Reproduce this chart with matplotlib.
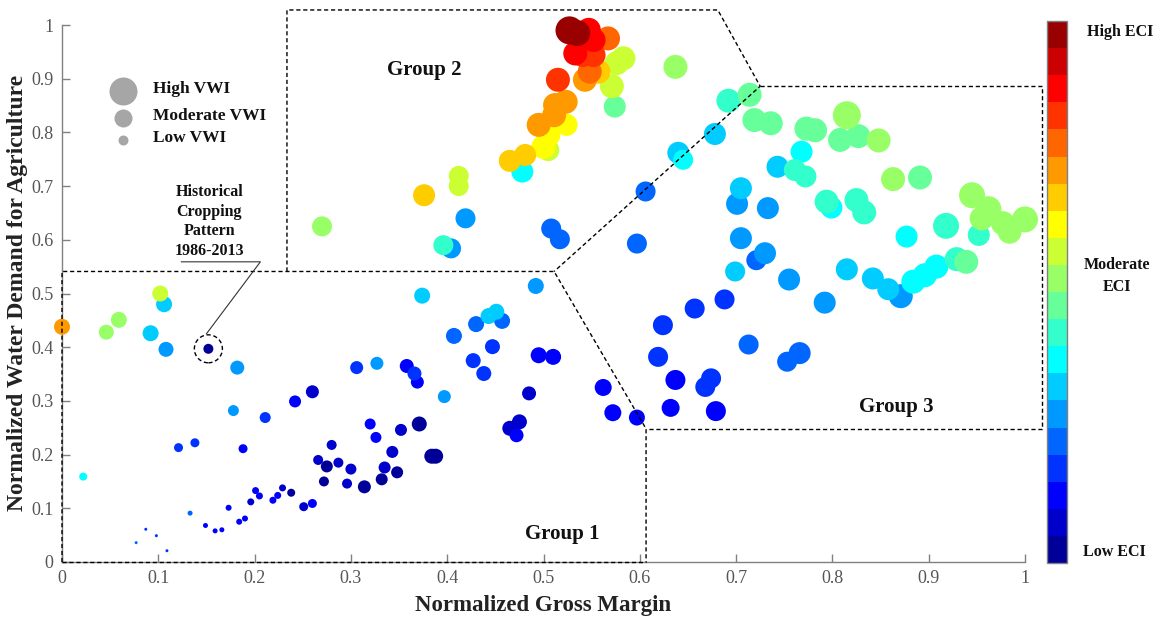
import matplotlib
matplotlib.use("Agg")
import matplotlib.pyplot as plt
import numpy as np
from matplotlib.colors import ListedColormap, BoundaryNorm
from matplotlib.patches import Ellipse
import matplotlib.colorbar as mcolorbar

# ---------------- data ----------------
gross_margin = [
    0.000, 0.046, 0.059, 0.102, 0.106, 0.092, 0.108, 0.152, 0.182, 0.022,
    0.178, 0.211, 0.242, 0.260, 0.121, 0.138, 0.188, 0.133, 0.077, 0.087,
    0.098, 0.109, 0.149, 0.159, 0.166, 0.173, 0.184, 0.190, 0.196, 0.201,
    0.205, 0.219, 0.224, 0.229, 0.238, 0.251, 0.260, 0.272, 0.266, 0.275,
    0.287, 0.280, 0.296, 0.300, 0.314, 0.332, 0.348, 0.335, 0.343, 0.320,
    0.326, 0.352, 0.371, 0.384, 0.388, 0.306, 0.327, 0.358, 0.366, 0.369,
    0.397, 0.374, 0.492, 0.443, 0.451, 0.430, 0.457, 0.407, 0.447, 0.427,
    0.438, 0.495, 0.510, 0.485, 0.465, 0.475, 0.472, 0.562, 0.572, 0.597,
    # group 2
    0.270, 0.376, 0.412, 0.412, 0.419, 0.396, 0.404, 0.478, 0.465, 0.481,
    0.508, 0.517, 0.606, 0.597, 0.637, 0.640, 0.645,
    0.495, 0.500, 0.505, 0.505, 0.524, 0.511, 0.512, 0.523, 0.515, 0.543,
    0.548, 0.557, 0.571, 0.574, 0.576, 0.583, 0.533, 0.541, 0.552, 0.567,
    0.552, 0.547, 0.527, 0.535,
    # group 3
    0.692, 0.714, 0.719, 0.736, 0.678, 0.773, 0.782, 0.815, 0.808, 0.827,
    0.848, 0.768, 0.743, 0.761, 0.772, 0.863, 0.891, 0.705, 0.701, 0.733,
    0.794, 0.799, 0.825, 0.833, 0.945, 0.962, 0.955, 0.984, 0.977, 1.000,
    0.952, 0.918, 0.877, 0.705, 0.730, 0.721, 0.699, 0.755, 0.815, 0.842,
    0.858, 0.871, 0.884, 0.896, 0.908, 0.929, 0.939, 0.792, 0.688, 0.657,
    0.624, 0.619, 0.713, 0.753, 0.766, 0.637, 0.674, 0.668, 0.632, 0.679,
]
water_demand = [
    0.438, 0.428, 0.451, 0.500, 0.480, 0.426, 0.396, 0.397, 0.362, 0.159,
    0.282, 0.269, 0.299, 0.317, 0.213, 0.222, 0.211, 0.091, 0.036, 0.061,
    0.049, 0.021, 0.068, 0.058, 0.060, 0.101, 0.075, 0.081, 0.112, 0.133,
    0.123, 0.115, 0.124, 0.138, 0.129, 0.103, 0.109, 0.150, 0.190, 0.178,
    0.185, 0.218, 0.146, 0.173, 0.140, 0.154, 0.167, 0.176, 0.205, 0.257,
    0.232, 0.246, 0.257, 0.197, 0.197, 0.362, 0.370, 0.365, 0.351, 0.335,
    0.308, 0.496, 0.514, 0.458, 0.466, 0.443, 0.449, 0.421, 0.401, 0.375,
    0.351, 0.385, 0.382, 0.314, 0.249, 0.261, 0.236, 0.325, 0.278, 0.269,
    # group 2
    0.625, 0.683, 0.719, 0.700, 0.640, 0.590, 0.584, 0.727, 0.747, 0.758,
    0.621, 0.601, 0.690, 0.593, 0.922, 0.762, 0.749,
    0.814, 0.773, 0.767, 0.795, 0.814, 0.832, 0.851, 0.857, 0.898, 0.898,
    0.913, 0.913, 0.886, 0.848, 0.929, 0.938, 0.947, 0.944, 0.944, 0.975,
    0.972, 0.991, 0.990, 0.985,
    # group 3
    0.859, 0.870, 0.823, 0.817, 0.797, 0.807, 0.804, 0.832, 0.786, 0.793,
    0.785, 0.764, 0.736, 0.730, 0.718, 0.713, 0.716, 0.696, 0.667, 0.659,
    0.671, 0.660, 0.674, 0.651, 0.683, 0.657, 0.640, 0.615, 0.631, 0.638,
    0.609, 0.626, 0.606, 0.603, 0.575, 0.562, 0.541, 0.526, 0.545, 0.528,
    0.508, 0.495, 0.522, 0.534, 0.550, 0.564, 0.559, 0.483, 0.489, 0.472,
    0.441, 0.382, 0.405, 0.373, 0.389, 0.339, 0.342, 0.326, 0.287, 0.281,
]
eci = [
    0.72, 0.52, 0.52, 0.57, 0.32, 0.32, 0.27, 0.02, 0.27, 0.37,
    0.27, 0.17, 0.12, 0.08, 0.17, 0.17, 0.12, 0.22, 0.22, 0.17,
    0.17, 0.17, 0.12, 0.12, 0.12, 0.12, 0.12, 0.12, 0.08, 0.12,
    0.12, 0.12, 0.12, 0.08, 0.02, 0.08, 0.12, 0.02, 0.08, 0.02,
    0.08, 0.08, 0.08, 0.08, 0.02, 0.02, 0.02, 0.08, 0.08, 0.12,
    0.12, 0.08, 0.02, 0.02, 0.02, 0.17, 0.27, 0.12, 0.17, 0.12,
    0.27, 0.32, 0.27, 0.32, 0.32, 0.24, 0.22, 0.22, 0.17, 0.17,
    0.17, 0.12, 0.12, 0.08, 0.08, 0.08, 0.12, 0.12, 0.12, 0.12,
    # group 2
    0.52, 0.67, 0.57, 0.57, 0.27, 0.42, 0.27, 0.37, 0.67, 0.67,
    0.24, 0.22, 0.22, 0.22, 0.52, 0.32, 0.37,
    0.72, 0.62, 0.57, 0.62, 0.62, 0.72, 0.72, 0.72, 0.82, 0.72,
    0.77, 0.67, 0.57, 0.47, 0.57, 0.57, 0.87, 0.82, 0.82, 0.77,
    0.87, 0.87, 0.98, 0.98,
    # group 3
    0.42, 0.47, 0.47, 0.47, 0.32, 0.47, 0.47, 0.52, 0.47, 0.47,
    0.52, 0.37, 0.32, 0.42, 0.42, 0.52, 0.47, 0.32, 0.27, 0.27,
    0.42, 0.37, 0.42, 0.42, 0.52, 0.52, 0.52, 0.52, 0.52, 0.52,
    0.42, 0.42, 0.37, 0.27, 0.27, 0.22, 0.32, 0.27, 0.32, 0.32,
    0.32, 0.27, 0.37, 0.37, 0.37, 0.42, 0.47, 0.27, 0.17, 0.17,
    0.17, 0.17, 0.22, 0.22, 0.22, 0.12, 0.17, 0.17, 0.12, 0.12,
]
vwi = [
    0.52, 0.48, 0.52, 0.52, 0.52, 0.52, 0.48, 0.28, 0.44, 0.20,
    0.32, 0.32, 0.36, 0.40, 0.24, 0.24, 0.24, 0.08, 0.00, 0.00,
    0.00, 0.00, 0.08, 0.08, 0.08, 0.12, 0.12, 0.12, 0.16, 0.16,
    0.16, 0.16, 0.16, 0.16, 0.20, 0.24, 0.24, 0.28, 0.28, 0.36,
    0.28, 0.28, 0.28, 0.32, 0.40, 0.36, 0.36, 0.36, 0.36, 0.32,
    0.32, 0.36, 0.48, 0.48, 0.48, 0.40, 0.40, 0.44, 0.44, 0.40,
    0.40, 0.52, 0.52, 0.52, 0.52, 0.52, 0.52, 0.52, 0.48, 0.48,
    0.48, 0.52, 0.52, 0.44, 0.48, 0.48, 0.44, 0.56, 0.56, 0.52,
    # group 2
    0.68, 0.76, 0.68, 0.68, 0.68, 0.68, 0.68, 0.76, 0.76, 0.76,
    0.68, 0.68, 0.68, 0.68, 0.84, 0.76, 0.68,
    0.84, 0.84, 0.76, 0.84, 0.76, 0.84, 0.84, 0.84, 0.84, 0.84,
    0.84, 0.84, 0.84, 0.76, 0.84, 0.84, 0.84, 0.84, 0.84, 0.84,
    0.84, 0.84, 1.00, 0.92,
    # group 3
    0.84, 0.84, 0.84, 0.84, 0.76, 0.84, 0.84, 1.00, 0.84, 0.84,
    0.84, 0.76, 0.76, 0.76, 0.76, 0.84, 0.84, 0.76, 0.76, 0.76,
    0.84, 0.76, 0.84, 0.84, 0.92, 0.92, 0.84, 0.84, 0.84, 0.92,
    0.76, 0.92, 0.76, 0.76, 0.76, 0.68, 0.68, 0.76, 0.76, 0.76,
    0.76, 0.84, 0.84, 0.84, 0.84, 0.84, 0.84, 0.76, 0.68, 0.68,
    0.68, 0.68, 0.68, 0.68, 0.76, 0.68, 0.68, 0.68, 0.60, 0.68,
]
historical_gm, historical_wd = 0.152, 0.397

x_ticks = [0, 0.1, 0.2, 0.3, 0.4, 0.5, 0.6, 0.7, 0.8, 0.9, 1]
x_tick_labels = ["0", "0.1", "0.2", "0.3", "0.4", "0.5", "0.6", "0.7", "0.8", "0.9", "1"]
y_ticks = [0, 0.1, 0.2, 0.3, 0.4, 0.5, 0.6, 0.7, 0.8, 0.9, 1]
y_tick_labels = ["0", "0.1", "0.2", "0.3", "0.4", "0.5", "0.6", "0.7", "0.8", "0.9", "1"]
legend_labels = ["High VWI", "Moderate VWI", "Low VWI"]
group_labels = ["Group 1", "Group 2", "Group 3"]

# ---------------- style ----------------
SERIF = ["Liberation Serif", "DejaVu Serif"]
jet20 = [(0, 0, .6), (0, 0, .8), (0, 0, 1), (0, .2, 1), (0, .4, 1), (0, .6, 1), (0, .8, 1),
         (0, 1, 1), (.2, 1, .8), (.4, 1, .6), (.6, 1, .4), (.8, 1, .2), (1, 1, 0), (1, .8, 0),
         (1, .6, 0), (1, .4, 0), (1, .2, 0), (1, 0, 0), (.8, 0, 0), (.6, 0, 0)]
cmap = ListedColormap(jet20)
norm = BoundaryNorm(np.linspace(0, 1, 21), 20)

W, H = 1164, 622
fig = plt.figure(figsize=(W / 100, H / 100), dpi=100)
ax = fig.add_axes([62 / W, 1 - 562 / H, 963 / W, 537 / H])

gm = np.array(gross_margin)
wd = np.array(water_demand)
ec = np.array(eci)
vw = np.array(vwi)
order = np.argsort(ec, kind="stable")
diam_px = 3 + 25 * vw
sizes = (diam_px * 0.72) ** 2
ax.scatter(gm[order], wd[order], s=sizes[order], c=ec[order], cmap=cmap, norm=norm,
           edgecolors="none", zorder=3, clip_on=False)

ax.set_xlim(0, 1)
ax.set_ylim(0, 1)
for sp in ["top", "right"]:
    ax.spines[sp].set_visible(False)
for sp in ["left", "bottom"]:
    ax.spines[sp].set_color("#808080")
    ax.spines[sp].set_linewidth(1.0)
ax.set_xticks(x_ticks)
ax.set_xticklabels(x_tick_labels)
ax.set_yticks(y_ticks)
ax.set_yticklabels(y_tick_labels)
ax.tick_params(direction="in", length=6, width=1, color="#808080", labelcolor="#555555",
               labelsize=13, pad=6)
for lab in ax.get_xticklabels() + ax.get_yticklabels():
    lab.set_family(SERIF)

# group boundaries (dashed)
dash = dict(color="black", lw=1.0, dashes=(3, 2), clip_on=False, zorder=4)
ax.plot([0, 0, 0.511, 0.6065, 0.6065], [0, 0.541, 0.541, 0.248, 0], **dash)
ax.plot([0, 0.6065], [0, 0], **dash)
ax.plot([0.2336, 0.2336, 0.681, 0.725, 0.511], [0.541, 1.028, 1.028, 0.886, 0.541], **dash)
ax.plot([0.725, 1.0173, 1.0173, 0.6065], [0.886, 0.886, 0.248, 0.248], **dash)

txt = dict(family=SERIF, fontweight="bold", color="#111111", ha="center", va="center")
ax.text(0.519, 0.052, group_labels[0], fontsize=15, **txt)
ax.text(0.376, 0.916, group_labels[1], fontsize=15, **txt)
ax.text(0.866, 0.288, group_labels[2], fontsize=15, **txt)

# VWI legend
leg_y = [0.877, 0.827, 0.785]
leg_d = [28, 18, 10]
for yy, dd, lab in zip(leg_y, leg_d, legend_labels):
    ax.plot([0.0633], [yy], marker="o", ms=dd * 0.72, color="#a6a6a6", mec="none", zorder=5)
    ax.text(0.094, yy + 0.004, lab, fontsize=12.5, family=SERIF, fontweight="bold",
            color="#111111", ha="left", va="center")

# historical cropping pattern annotation
ax.add_patch(Ellipse((historical_gm, historical_wd), 0.0291, 0.0521, fill=False,
                     ec="black", lw=1.0, ls=(0, (3, 2)), zorder=5))
ax.plot([0.124, 0.206, 0.150], [0.559, 0.559, 0.425], color="#333333", lw=0.8, zorder=5)
ax.text(0.153, 0.634, "Historical\nCropping\nPattern\n1986-2013", fontsize=11.5,
        linespacing=1.3, multialignment="center", **txt)

# axis labels
fig.text(543 / W, 1 - 606 / H, "Normalized Gross Margin", fontsize=16.5, family=SERIF,
         fontweight="bold", color="#222222", ha="center", va="center")
fig.text(18 / W, 1 - 293 / H, "Normalized Water Demand for Agriculture", fontsize=17,
         family=SERIF, fontweight="bold", color="#222222", ha="center", va="center",
         rotation=90)

# colorbar
cax = fig.add_axes([1047 / W, 1 - 563 / H, 20 / W, 542 / H])
cb = mcolorbar.ColorbarBase(cax, cmap=cmap, norm=norm, orientation="vertical")
cb.set_ticks([])
cax.minorticks_off()
cax.tick_params(which="both", length=0, labelright=False, labelleft=False)
cb.outline.set_edgecolor("#808080")
cb.outline.set_linewidth(1.0)
ctxt = dict(family=SERIF, fontweight="bold", color="#111111", ha="center", va="center",
            fontsize=11.5)
fig.text(1120 / W, 1 - 32 / H, "High ECI", **ctxt)
fig.text(1117 / W, 1 - 276 / H, "Moderate\nECI", linespacing=1.45, **ctxt)
fig.text(1114 / W, 1 - 552 / H, "Low ECI", **ctxt)

fig.savefig("out.png", dpi=100)
